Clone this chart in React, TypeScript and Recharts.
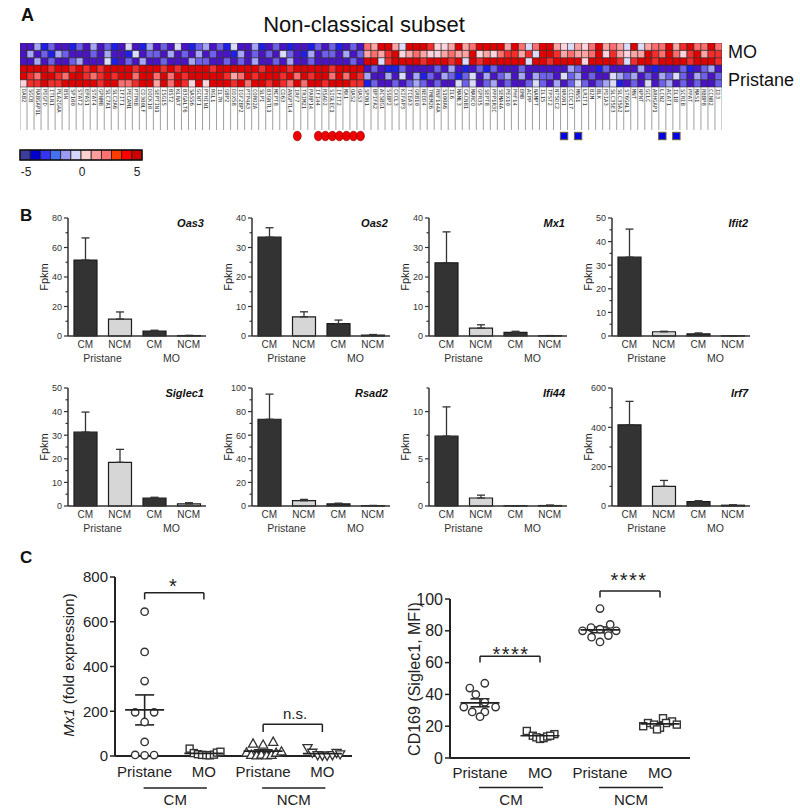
import React from 'react';
import { BarChart, Bar, XAxis, YAxis, Cell, ErrorBar, ScatterChart, Scatter, ReferenceLine } from 'recharts';

const FONT = "Arial, 'Liberation Sans', Helvetica, sans-serif";

// ---------------- Panel A: heatmap data ----------------
const heatGenesLeft = ['DAB2','SGCB','RABGAP1L','PDGFD','ITLN1','PLA2G4A','BSN','SP100','STAT2','EPAS1','STAT4','GPNMB','SLC7A1','SLC2A6','IFIT1','PECAM1','PTPRB','CD300LF','DOCK10','SEPTIN1','ISG15','BST2','KLRA7','B3GALT6','SASS6','GCNT1','PYHIN1','RGL1','IL7R','GBP2','DDX58','IGF2BP2','PTP4A3','CORO2A','SLPI','B3GNTL1','MCPT8','CD63','ANGPTL4','IRF7','TRIM21','PARP14','IFI44','RSAD2','SIGLEC1','IFIT2','MX1','OAS2','OAS3'];
const heatGenesRight = ['SPON1','BPIFA2','ACSBG1','SSBP2','CXCL3','KIFAP3','TCEA3','GRB10','NEDD4','TMEM26','RNF144A','S100A6','IL6','MAML3','CACNB1','MARCO','GPR35','SEPT8','PPP1R3C','SEMA4A','PEX10','PHF14','EMB','ACPP','NAMPT','IL15','TPST2','NT5DC2','NRXN1','CCDC17','MNS1','LRIT1','B2M','BLK','PDIA3','SLC35E3','SLC35A2','ST6GAL1','MNT','NPNT','GCLC','ARHGAP1','LCN2','ACAT1','IL1B','SCRIB','PPAT','MAS1','RBBP8','CCNB2','ID3'];
const heatGenes = [...heatGenesLeft, ...heatGenesRight];

// level codes: '1'..'5' => -5..-1, '6','7','8','9','0' => +1..+5
const heatRowMO1 = '2241322132423125214232521342315224123212213231232' + '870075000966707800007085800765768078750578807908808';
const heatRowMO2 = '2423143222324221523324232423221423232532142332423' + '787906787667877067689979500978778069767709808690799';
const heatRowMO3 = '2242322342225123242232224332232324223242232222232' + '005900009000905090000005009000060000959009000090009';
const heatRowPr1 = '0000900909090000900090900009000000900090000090000' + '232113222232421231322232222224322132222421222312342';
const heatRowPr2 = '0980098009890900800808090000097809000908090080809' + '422425241324313524234242433253423225434232435324323';
const heatRowPr3 = '6990990000090088900708096060009080090980800900099' + '132232343232253523423223532423532345123252342323223';
const heatRows = [heatRowMO1, heatRowMO2, heatRowMO3, heatRowPr1, heatRowPr2, heatRowPr3];
const ovalGenes = ['IRF7','IFI44','RSAD2','SIGLEC1','IFIT2','MX1','OAS2','OAS3'];
const squareGenes = ['NRXN1','MNS1','LCN2','IL1B'];
const legendColors = ['#3c3c9c','#0000cc','#3333f0','#4272f2','#9a9af4','#d4d4fa','#ffd0d0','#ff9c9c','#ff7070','#ff3c00','#ff0000','#cc0000'];
const legendLabels = ['-5','0','5'];

const codeToLevel: Record<string, number> = { '1': -5, '2': -4, '3': -3, '4': -2, '5': -1, '6': 1, '7': 2, '8': 3, '9': 4, '0': 5 };
const levelColor: Record<string, string> = {
  '-5': '#1e1ee8', '-4': '#4a14c6', '-3': '#6e60ea', '-2': '#a6a6f6', '-1': '#dcdcfc',
  '1': '#ffd4dc', '2': '#ffa4a4', '3': '#ff6e6e', '4': '#f42c2c', '5': '#e00000',
};
const heatLevels = heatRows.map((s) => s.split('').map((c) => codeToLevel[c]));
const heatData = heatGenes.map((g) => ({ gene: g, r0: 1, r1: 1, r2: 1, r3: 1, r4: 1, r5: 1 }));

// ---------------- Panel B: bar data ----------------
const barCats = ['CM', 'NCM', 'CM', 'NCM'];
const barGroups = ['Pristane', 'MO'];
const oas3Mean = [51.5, 11.5, 3.3, 0.3];
const oas3Top = [66.5, 16.3, 3.9, 0.4];
const oas3Ticks = [0, 10, 20, 30, 40, 50, 60, 70, 80];
const oas3Major = [0, 20, 40, 60, 80];
const oas2Mean = [33.5, 6.5, 4.2, 0.3];
const oas2Top = [36.7, 8.2, 5.4, 0.5];
const oas2Ticks = [0, 5, 10, 15, 20, 25, 30, 35, 40];
const oas2Major = [0, 10, 20, 30, 40];
const mx1Mean = [24.8, 2.7, 1.2, 0.1];
const mx1Top = [35.3, 3.8, 1.6, 0.15];
const mx1BarTicks = [0, 5, 10, 15, 20, 25, 30, 35, 40];
const mx1Major = [0, 10, 20, 30, 40];
const ifit2Mean = [33.4, 1.8, 0.9, 0.1];
const ifit2Top = [45.3, 2.0, 1.3, 0.15];
const ifit2Ticks = [0, 5, 10, 15, 20, 25, 30, 35, 40, 45, 50];
const ifit2Major = [0, 10, 20, 30, 40, 50];
const siglec1Mean = [31.3, 18.5, 3.3, 0.9];
const siglec1Top = [39.8, 24.0, 3.7, 1.4];
const siglec1Ticks = [0, 5, 10, 15, 20, 25, 30, 35, 40, 45, 50];
const siglec1Major = [0, 10, 20, 30, 40, 50];
const rsad2Mean = [73.5, 4.5, 1.8, 0.3];
const rsad2Top = [94.8, 5.6, 2.4, 0.5];
const rsad2Ticks = [0, 10, 20, 30, 40, 50, 60, 70, 80, 90, 100];
const rsad2Major = [0, 20, 40, 60, 80, 100];
const ifi44Mean = [7.4, 0.85, 0.03, 0.05];
const ifi44Top = [10.5, 1.15, 0.04, 0.1];
const ifi44Ticks = [0, 2.5, 5, 7.5, 10, 12.5];
const ifi44Major = [0, 5, 10];
const irf7Mean = [413, 100, 22, 4];
const irf7Top = [532, 130, 27, 6];
const irf7Ticks = [0, 100, 200, 300, 400, 500, 600];
const irf7Major = [0, 200, 400, 600];

// ---------------- Panel C: scatter data ----------------
const cLabels = ['Pristane', 'MO', 'Pristane', 'MO'];
const cGroups = ['CM', 'NCM'];
const mx1CMPrY = [645, 465, 335, 195, 195, 152, 63, 5, 3, 4];
const mx1CMPrDx = [0, 0, 0, -0.16, 0.16, 0, 0, -0.16, 0, 0.16];
const mx1CMMoY = [33, 13, 8, 5, 4, 3, 6, 15, 19];
const mx1CMMoDx = [-0.24, -0.17, -0.1, -0.03, 0.04, 0.1, 0.17, 0.22, 0.28];
const mx1NCMPrY = [55, 50, 63, 15, 5, 2, 6, 2, 5, 14, 20];
const mx1NCMPrDx = [-0.17, 0, 0.17, -0.28, -0.2, -0.11, -0.03, 0.06, 0.14, 0.22, 0.31];
const mx1NCMMoY = [36, 15, 4, 2, 2, 4, 14, 8];
const mx1NCMMoDx = [-0.25, -0.17, -0.08, 0, 0.08, 0.17, 0.24, 0.3];
const mx1GroupMean = [206, 12, 21.5, 10.6];
const mx1GroupSem = [67, 3, 6, 4];
const mx1Brackets = [{ x1: 1, x2: 2, y: 730, leg: 700 }, { x1: 3, x2: 4, y: 142, leg: 107 }];
const mx1FoldTicks = [0, 200, 400, 600, 800];

const cdCMPrY = [47, 44, 40, 35, 32, 32, 29, 29, 26];
const cdCMPrDx = [0.08, -0.17, -0.07, 0.08, -0.27, 0.26, -0.13, 0.08, 0];
const cdCMMoY = [17, 14, 13, 12, 12.5, 13.5, 15, 14];
const cdCMMoDx = [-0.22, -0.12, -0.06, 0, 0.06, 0.12, 0.24, 0.17];
const cdNCMPrY = [94, 84, 82, 81, 80, 80, 79, 77, 76, 73];
const cdNCMPrDx = [0, 0.17, -0.15, 0, -0.29, 0.27, 0.13, 0.14, -0.14, 0];
const cdNCMMoY = [25, 23, 22, 22, 21, 21, 20, 19, 18];
const cdNCMMoDx = [0.05, 0.2, -0.2, 0.1, -0.1, 0.28, -0.28, 0, -0.05];
const cdGroupMean = [34.7, 14, 80.6, 21.5];
const cdGroupSem = [2.5, 0.6, 1.8, 0.7];
const cdBrackets = [{ x1: 1, x2: 2, y: 64, leg: 60 }, { x1: 3, x2: 4, y: 105, leg: 101 }];
const cdTicks = [0, 20, 40, 60, 80, 100];

// ---------------- helpers ----------------
const HEAT_LEFT = 20, HEAT_TOP = 43, HEAT_W = 702, HEAT_H = 44;

const HeatTick = (props: any) => {
  const { x, y, payload } = props;
  const gene = payload.value as string;
  const idx = heatGenes.indexOf(gene);
  const cw = HEAT_W / heatGenes.length;
  return (
    <g>
      <line x1={x - cw / 2} x2={x - cw / 2} y1={y} y2={y + 43} stroke="#777" strokeWidth={0.7} />
      {idx === heatGenes.length - 1 && (
        <line x1={x + cw / 2} x2={x + cw / 2} y1={y} y2={y + 43} stroke="#777" strokeWidth={0.7} />
      )}
      <text transform={`translate(${x - 2},${y + 2}) rotate(90)`} fontSize={5.6} fontFamily="'DejaVu Sans Mono', monospace" fill="#333">
        {gene}
      </text>
      {ovalGenes.includes(gene) && (
        <ellipse cx={x} cy={y + 49} rx={4} ry={4.8} fill="#ee0000" stroke="#8a0000" strokeWidth={0.6} />
      )}
      {squareGenes.includes(gene) && (
        <rect x={x - 3.7} y={y + 45.3} width={7.4} height={7.4} fill="#0000ee" stroke="#6e6030" strokeWidth={1} />
      )}
    </g>
  );
};

const B_PLOT_W = 138, B_PLOT_H = 118, B_YW = 45, B_TOP = 10, B_XH = 36;
const B_CAT = B_PLOT_W / 4;
const barFills = ['#333333', '#d6d6d6', '#333333', '#d6d6d6'];

const BarXTick = (props: any) => {
  const { x, y, index } = props;
  const i = index as number;
  return (
    <g>
      <text x={x} y={y + 12} textAnchor="middle" fontSize={10} fontFamily={FONT} fill="#333">{barCats[i]}</text>
      {i % 2 === 0 && (
        <text x={x + B_CAT / 2} y={y + 26} textAnchor="middle" fontSize={10.5} fontFamily={FONT} fill="#333">
          {barGroups[i / 2]}
        </text>
      )}
    </g>
  );
};

const makeYTick = (majors: number[]) => (props: any) => {
  const { x, y, payload } = props;
  const major = majors.includes(payload.value);
  return (
    <g>
      <line x1={x - (major ? 4 : 2.5)} x2={x} y1={y} y2={y} stroke="#333" strokeWidth={1.2} />
      {major && (
        <text x={x - 6} y={y} dy={3.3} textAnchor="end" fontSize={9} fontFamily={FONT} fill="#333">
          {payload.value}
        </text>
      )}
    </g>
  );
};

type BP = { gene: string; mean: number[]; top: number[]; max: number; ticks: number[]; majors: number[]; ax: number; py: number };
const bPanels: BP[] = [
  { gene: 'Oas3', mean: oas3Mean, top: oas3Top, max: 80, ticks: oas3Ticks, majors: oas3Major, ax: 68, py: 218 },
  { gene: 'Oas2', mean: oas2Mean, top: oas2Top, max: 40, ticks: oas2Ticks, majors: oas2Major, ax: 252, py: 218 },
  { gene: 'Mx1', mean: mx1Mean, top: mx1Top, max: 40, ticks: mx1BarTicks, majors: mx1Major, ax: 429, py: 218 },
  { gene: 'Ifit2', mean: ifit2Mean, top: ifit2Top, max: 50, ticks: ifit2Ticks, majors: ifit2Major, ax: 612, py: 218 },
  { gene: 'Siglec1', mean: siglec1Mean, top: siglec1Top, max: 50, ticks: siglec1Ticks, majors: siglec1Major, ax: 68, py: 388 },
  { gene: 'Rsad2', mean: rsad2Mean, top: rsad2Top, max: 100, ticks: rsad2Ticks, majors: rsad2Major, ax: 252, py: 388 },
  { gene: 'Ifi44', mean: ifi44Mean, top: ifi44Top, max: 12.5, ticks: ifi44Ticks, majors: ifi44Major, ax: 429, py: 388 },
  { gene: 'Irf7', mean: irf7Mean, top: irf7Top, max: 600, ticks: irf7Ticks, majors: irf7Major, ax: 612, py: 388 },
];

const BarPanel = ({ p }: { p: BP }) => {
  const data = p.mean.map((m, i) => ({ k: 'c' + i, value: m, err: [0, p.top[i] - m] }));
  return (
    <div style={{ position: 'absolute', left: p.ax - B_YW, top: p.py - B_TOP }}>
      <BarChart width={B_YW + B_PLOT_W + 5} height={B_TOP + B_PLOT_H + B_XH} data={data}
        margin={{ top: B_TOP, right: 5, left: 0, bottom: 0 }} barSize={23}>
        <XAxis dataKey="k" height={B_XH} interval={0} tick={BarXTick} tickLine={false} tickSize={0} tickMargin={0}
          axisLine={{ stroke: '#333', strokeWidth: 1.5 }} />
        <YAxis width={B_YW} type="number" domain={[0, p.max]} ticks={p.ticks} interval={0} tick={makeYTick(p.majors)}
          tickLine={false} tickSize={0} tickMargin={0} axisLine={{ stroke: '#333', strokeWidth: 1.5 }} />
        <Bar dataKey="value" isAnimationActive={false} stroke="#1c1c1c" strokeWidth={1.2}>
          {data.map((d, i) => <Cell key={i} fill={barFills[i]} />)}
          <ErrorBar dataKey="err" width={4} stroke="#333" strokeWidth={1.3} direction="y" />
        </Bar>
      </BarChart>
    </div>
  );
};

// ---- Panel C helpers ----
const circleShape = (p: any) => <circle cx={p.cx} cy={p.cy} r={3.7} fill="#fff" stroke="#333" strokeWidth={1.4} />;
const squareShape = (p: any) => <rect x={p.cx - 3.5} y={p.cy - 3.5} width={7} height={7} fill="#fff" stroke="#333" strokeWidth={1.4} />;
const triUpShape = (p: any) => (
  <path d={`M${p.cx},${p.cy - 4.8} L${p.cx + 4.6},${p.cy + 3.4} L${p.cx - 4.6},${p.cy + 3.4} Z`} fill="#fff" stroke="#333" strokeWidth={1.3} />
);
const triDownShape = (p: any) => (
  <path d={`M${p.cx},${p.cy + 4.8} L${p.cx + 4.6},${p.cy - 3.4} L${p.cx - 4.6},${p.cy - 3.4} Z`} fill="#fff" stroke="#333" strokeWidth={1.3} />
);
const meanShape = (p: any) => <line x1={p.cx - 19.5} x2={p.cx + 19.5} y1={p.cy} y2={p.cy} stroke="#222" strokeWidth={1.7} />;

const toPts = (ys: number[], dx: number[], g: number) => ys.map((v, i) => ({ x: g + dx[i], y: v }));

const makeCTick = (unit: number, off: { label: number; line: number; group: number }) => (props: any) => {
  const { x, y, payload } = props;
  const i = Math.round(payload.value) - 1;
  return (
    <g>
      <text x={x} y={y + off.label} textAnchor="middle" fontSize={15} fontFamily={FONT} fill="#222">{cLabels[i]}</text>
      {i % 2 === 0 && (
        <g>
          <line x1={x - 1} x2={x + unit + 3} y1={y + off.line} y2={y + off.line} stroke="#222" strokeWidth={1.5} />
          <text x={x + unit / 2 + 1} y={y + off.group} textAnchor="middle" fontSize={15} fontFamily={FONT} fill="#222">
            {cGroups[i / 2]}
          </text>
        </g>
      )}
    </g>
  );
};

type CP = {
  left: number; top: number; plotW: number; plotH: number; mTop: number; xh: number; max: number; ticks: number[];
  series: { pts: { x: number; y: number }[]; shape: any }[]; means: number[]; sems: number[];
  brackets: { x1: number; x2: number; y: number; leg: number }[]; fontSize: number; off: { label: number; line: number; group: number };
};

const ScatterPanel = ({ c }: { c: CP }) => {
  const meanData = c.means.map((m, i) => ({ x: i + 1, y: m, sem: c.sems[i] }));
  const unit = c.plotW / 4;
  return (
    <div style={{ position: 'absolute', left: c.left - 50, top: c.top - c.mTop }}>
      <ScatterChart width={50 + c.plotW + 10} height={c.mTop + c.plotH + c.xh} margin={{ top: c.mTop, right: 10, left: 0, bottom: 0 }}>
        <XAxis type="number" dataKey="x" domain={[0.5, 4.5]} ticks={[1, 2, 3, 4]} interval={0} height={c.xh}
          tick={makeCTick(unit, c.off)} tickLine={false} tickSize={0} tickMargin={0} axisLine={{ stroke: '#222', strokeWidth: 2 }} />
        <YAxis type="number" dataKey="y" width={50} domain={[0, c.max]} ticks={c.ticks} interval={0}
          tick={{ fontSize: c.fontSize, fill: '#222', fontFamily: FONT }} tickSize={5} tickMargin={2}
          tickLine={{ stroke: '#222', strokeWidth: 1.5 }} axisLine={{ stroke: '#222', strokeWidth: 2 }} />
        {c.series.map((s, i) => (
          <Scatter key={i} data={s.pts} shape={s.shape} isAnimationActive={false} />
        ))}
        <Scatter data={meanData} shape={meanShape} isAnimationActive={false}>
          <ErrorBar dataKey="sem" direction="y" width={9.5} stroke="#222" strokeWidth={1.6} />
        </Scatter>
        {c.brackets.map((b, i) => (
          <ReferenceLine key={'h' + i} segment={[{ x: b.x1, y: b.y }, { x: b.x2, y: b.y }]} stroke="#222" strokeWidth={1.5} ifOverflow="visible" />
        ))}
        {c.brackets.map((b, i) => (
          <ReferenceLine key={'l' + i} segment={[{ x: b.x1, y: b.y }, { x: b.x1, y: b.leg }]} stroke="#222" strokeWidth={1.5} ifOverflow="visible" />
        ))}
        {c.brackets.map((b, i) => (
          <ReferenceLine key={'r' + i} segment={[{ x: b.x2, y: b.y }, { x: b.x2, y: b.leg }]} stroke="#222" strokeWidth={1.5} ifOverflow="visible" />
        ))}
      </ScatterChart>
    </div>
  );
};

const cLeft: CP = {
  left: 115, top: 577, plotW: 237, plotH: 179, mTop: 20, xh: 56, max: 800, ticks: mx1FoldTicks,
  series: [
    { pts: toPts(mx1CMPrY, mx1CMPrDx, 1), shape: circleShape },
    { pts: toPts(mx1CMMoY, mx1CMMoDx, 2), shape: squareShape },
    { pts: toPts(mx1NCMPrY, mx1NCMPrDx, 3), shape: triUpShape },
    { pts: toPts(mx1NCMMoY, mx1NCMMoDx, 4), shape: triDownShape },
  ],
  means: mx1GroupMean, sems: mx1GroupSem, brackets: mx1Brackets, fontSize: 15,
  off: { label: 20.5, line: 32, group: 49 },
};
const cRight: CP = {
  left: 450, top: 599, plotW: 240, plotH: 159, mTop: 30, xh: 54, max: 100, ticks: cdTicks,
  series: [
    { pts: toPts(cdCMPrY, cdCMPrDx, 1), shape: circleShape },
    { pts: toPts(cdCMMoY, cdCMMoDx, 2), shape: squareShape },
    { pts: toPts(cdNCMPrY, cdNCMPrDx, 3), shape: circleShape },
    { pts: toPts(cdNCMMoY, cdNCMMoDx, 4), shape: squareShape },
  ],
  means: cdGroupMean, sems: cdGroupSem, brackets: cdBrackets, fontSize: 16,
  off: { label: 20, line: 29.5, group: 47 },
};

export default function App() {
  return (
    <div style={{ position: 'absolute', left: 0, top: 0, width: 800, height: 812, background: '#fff', overflow: 'hidden' }}>
      {/* Heatmap */}
      <div style={{ position: 'absolute', left: HEAT_LEFT, top: HEAT_TOP }}>
        <BarChart width={HEAT_W} height={HEAT_H + 60} data={heatData} margin={{ top: 0, right: 0, left: 0, bottom: 0 }}
          barCategoryGap={0} barGap={0}>
          <XAxis dataKey="gene" interval={0} height={60} tick={HeatTick} tickLine={false} axisLine={false} tickSize={0} tickMargin={0} />
          <YAxis hide type="number" domain={[0, 6]} />
          {[5, 4, 3, 2, 1, 0].map((r) => (
            <Bar key={r} dataKey={'r' + r} stackId="h" isAnimationActive={false} stroke="#2c2c2c" strokeWidth={0.6}>
              {heatGenes.map((g, i) => <Cell key={g} fill={levelColor[String(heatLevels[r][i])]} />)}
            </Bar>
          ))}
        </BarChart>
      </div>

      {bPanels.map((p) => <BarPanel key={p.gene} p={p} />)}

      <ScatterPanel c={cLeft} />
      <ScatterPanel c={cRight} />

      {/* text overlay */}
      <svg width={800} height={812} style={{ position: 'absolute', left: 0, top: 0, pointerEvents: 'none' }} fontFamily={FONT}>
        <text x={21} y={21} fontSize={18} fontWeight="bold" fill="#111">A</text>
        <text x={364} y={32} fontSize={22} textAnchor="middle" fill="#111">Non-classical subset</text>
        <text x={728} y={58} fontSize={18} fill="#111">MO</text>
        <text x={728} y={86} fontSize={18} fill="#111">Pristane</text>
        {legendColors.map((c, i) => (
          <rect key={c} x={20 + i * 10.17} y={150} width={10.17} height={10} fill={c} stroke="#222" strokeWidth={0.8} />
        ))}
        <rect x={20} y={150} width={122} height={10} fill="none" stroke="#111" strokeWidth={1.4} />
        <text x={26} y={176} fontSize={12} textAnchor="middle" fill="#222">{legendLabels[0]}</text>
        <text x={82} y={176} fontSize={12} textAnchor="middle" fill="#222">{legendLabels[1]}</text>
        <text x={137} y={176} fontSize={12} textAnchor="middle" fill="#222">{legendLabels[2]}</text>

        <text x={20} y={221} fontSize={17} fontWeight="bold" fill="#111">B</text>
        {bPanels.map((p) => (
          <g key={p.gene}>
            <text x={p.ax + B_PLOT_W - 2} y={p.py + 9} fontSize={11} fontWeight="bold" fontStyle="italic" textAnchor="end" fill="#111">{p.gene}</text>
            <text transform={`translate(${p.ax - 20.5},${p.py + 59}) rotate(-90)`} fontSize={11} textAnchor="middle" fill="#222">Fpkm</text>
          </g>
        ))}

        <text x={20} y={563} fontSize={17} fontWeight="bold" fill="#111">C</text>
        <text transform="translate(74,665) rotate(-90)" fontSize={15} textAnchor="middle" fill="#222">
          <tspan fontStyle="italic">Mx1</tspan> (fold expression)
        </text>
        <text transform="translate(420,679) rotate(-90)" fontSize={16} textAnchor="middle" fill="#222">CD169 (Siglec1, MFI)</text>
        <text x={173} y={593} fontSize={20} textAnchor="middle" fill="#222">*</text>
        <text x={295} y={719} fontSize={15} textAnchor="middle" fill="#222">n.s.</text>
        <text x={511} y={661} fontSize={20} textAnchor="middle" letterSpacing={1.5} fill="#222">****</text>
        <text x={629} y={587} fontSize={20} textAnchor="middle" letterSpacing={1.5} fill="#222">****</text>
      </svg>
    </div>
  );
}
